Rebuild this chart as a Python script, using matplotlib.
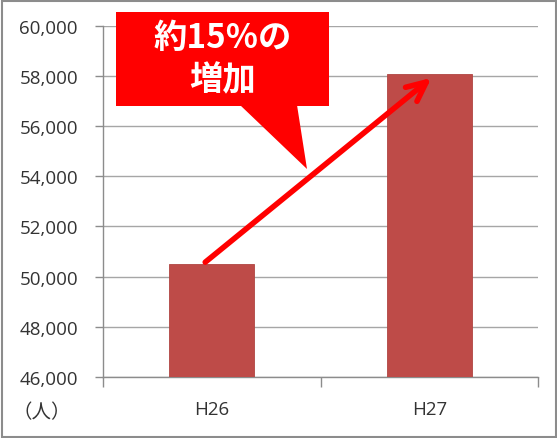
import matplotlib.pyplot as plt
from matplotlib.patches import Rectangle, Polygon
from matplotlib.ticker import FuncFormatter, MultipleLocator

# datos
years = ['H26', 'H27']
visitors = [50500, 58100]
y_ticks = [46000, 48000, 50000, 52000, 54000, 56000, 58000, 60000]
callout_text = '約15%の\n増加'
unit_label = '（人）'

plt.rcParams['font.family'] = ['Noto Sans CJK JP', 'DejaVu Sans']

fig = plt.figure(figsize=(5.57, 4.39), dpi=100)
ax = fig.add_axes([103 / 557, 1 - 377.7 / 439, 435 / 557, 350.7 / 439])

x = list(range(len(years)))
ax.bar(x, visitors, width=0.39, color='#be4b48', edgecolor='#b04541',
       linewidth=0.6, zorder=3)

ax.set_xlim(-0.5, 1.5)
ax.set_ylim(y_ticks[0], y_ticks[-1])
ax.set_yticks(y_ticks)
ax.yaxis.set_major_formatter(FuncFormatter(lambda v, p: f'{int(v):,}'))
ax.set_xticks(x)
ax.set_xticklabels(years)
ax.xaxis.set_minor_locator(MultipleLocator(1, offset=0.5))

ax.grid(axis='y', color='#a6a6a6', linewidth=1.0, zorder=0)
for s in ['top', 'right']:
    ax.spines[s].set_visible(False)
for s in ['left', 'bottom']:
    ax.spines[s].set_color('#8c8c8c')
    ax.spines[s].set_linewidth(1.0)

ax.tick_params(axis='y', length=6, width=1, color='#8c8c8c', pad=12,
               labelsize=13.5, labelcolor='#333333')
ax.tick_params(axis='x', which='major', length=0, pad=17,
               labelsize=13.5, labelcolor='#333333')
ax.tick_params(axis='x', which='minor', length=7, width=1, color='#8c8c8c')
for lab in ax.get_xticklabels() + ax.get_yticklabels():
    lab.set_family(['Open Sans', 'DejaVu Sans'])

# flecha del aumento
ax.annotate('', xy=(1.02, visitors[1] - 100), xytext=(-0.04, visitors[0]),
            arrowprops=dict(arrowstyle='->,head_length=1.4,head_width=0.65',
                            color='#ff0000', lw=4, capstyle='round'),
            zorder=5)

# globo rojo
W, H = 557, 439
box = Rectangle((116 / W, 1 - 107 / H), (329 - 116) / W, (107 - 13) / H,
                transform=fig.transFigure, facecolor='#ff0000',
                edgecolor='none', zorder=6)
tail = Polygon([(240 / W, 1 - 106 / H), (297 / W, 1 - 106 / H),
                (307 / W, 1 - 170 / H)], closed=True,
               transform=fig.transFigure, facecolor='#ff0000',
               edgecolor='none', zorder=6)
fig.patches.extend([box, tail])
fig.text(223 / W, 1 - 60 / H, callout_text, ha='center', va='center',
         color='white', fontsize=24, fontweight='bold', linespacing=1.35,
         zorder=7)

fig.text(42 / W, 1 - 413 / H, unit_label, ha='center', va='center',
         fontsize=14, color='#333333')

# marco
fig.patches.append(Rectangle((1.5 / W, 1.5 / H), 1 - 3 / W, 1 - 3 / H,
                             transform=fig.transFigure, fill=False,
                             edgecolor='#8c8c8c', linewidth=1.5))

fig.savefig('out.png', dpi=100)
